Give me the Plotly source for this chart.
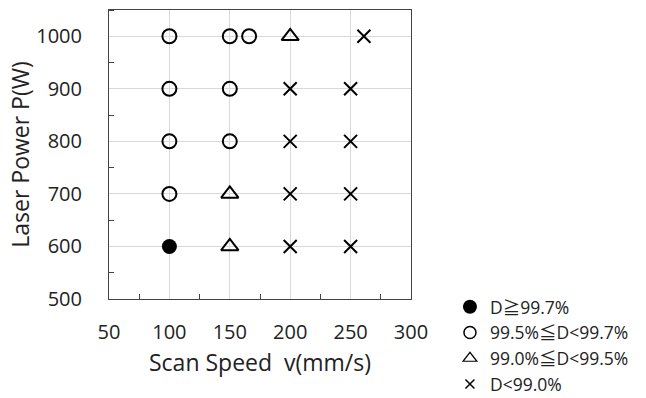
import plotly.graph_objects as go

# Data (scan speed v in mm/s, laser power P in W)
dense_v = [100]
dense_P = [600]
mid_v = [100, 100, 100, 100, 150, 150, 150, 166]
mid_P = [1000, 900, 800, 700, 1000, 900, 800, 1000]
low_v = [150, 150, 200]
low_P = [700, 600, 1000]
poor_v = [200, 200, 200, 200, 250, 250, 250, 250, 261]
poor_P = [900, 800, 700, 600, 900, 800, 700, 600, 1000]

names = ["D≧99.7%", "99.5%≦D<99.7%", "99.0%≦D<99.5%", "D<99.0%"]
x_ticks = [50, 100, 150, 200, 250, 300]
y_ticks = [500, 600, 700, 800, 900, 1000]

FONT = "Open Sans, Liberation Sans, Noto Sans CJK JP, sans-serif"

series = [
    (dense_v, dense_P, dict(symbol="circle", size=15, line=dict(width=0)),
     dict(symbol="circle", size=14, line=dict(width=0))),
    (mid_v, mid_P, dict(symbol="circle-open", size=14, line=dict(width=2, color="black")),
     dict(symbol="circle-open", size=12, line=dict(width=1.5, color="black"))),
    (low_v, low_P, dict(symbol="triangle-up-open", size=15, line=dict(width=2, color="black")),
     dict(symbol="triangle-up-open", size=12, line=dict(width=1.2, color="black"))),
    (poor_v, poor_P, dict(symbol="x-thin-open", size=13, line=dict(width=2, color="black")),
     dict(symbol="x-thin-open", size=9, line=dict(width=1.5, color="black"))),
]

fig = go.Figure()
for i, (xv, yv, mk, lmk) in enumerate(series):
    fig.add_trace(go.Scatter(x=xv, y=yv, mode="markers", name=names[i],
                             legendgroup=names[i], showlegend=False,
                             marker=dict(color="black", **mk)))
for i, (xv, yv, mk, lmk) in enumerate(series):
    fig.add_trace(go.Scatter(x=[None], y=[None], mode="markers", name=names[i],
                             legendgroup=names[i], showlegend=True,
                             marker=dict(color="black", **lmk)))

axis_common = dict(showgrid=True, gridcolor="#d9d9d9", gridwidth=1,
                   showline=True, linecolor="#444", linewidth=1, mirror=True,
                   ticks="", zeroline=False, automargin=False,
                   tickfont=dict(family=FONT, size=20, color="#222"))

fig.update_xaxes(range=[50, 300], tickvals=x_ticks, ticktext=[str(t) for t in x_ticks],
                 ticklabelstandoff=15,
                 minor=dict(ticks="inside", tick0=75, dtick=50, ticklen=5,
                            tickcolor="#444", showgrid=False),
                 title=dict(text="Scan Speed  v(mm/s)", standoff=10,
                            font=dict(family=FONT, size=23, color="#222")),
                 **axis_common)
fig.update_yaxes(range=[500, 1050], tickvals=y_ticks, ticktext=[str(t) for t in y_ticks],
                 ticklabelstandoff=22,
                 minor=dict(ticks="inside", tick0=550, dtick=100, ticklen=5,
                            tickcolor="#444", showgrid=False),
                 title=dict(text="Laser Power P(W)", standoff=0,
                            font=dict(family=FONT, size=23, color="#222")),
                 **axis_common)

fig.update_layout(
    width=646, height=398,
    margin=dict(l=109, r=235, t=10, b=99, autoexpand=False),
    paper_bgcolor="white", plot_bgcolor="white",
    showlegend=True,
    legend=dict(x=1.129, xanchor="left", y=0.035, yanchor="top",
                font=dict(family=FONT, size=17.5, color="#222"),
                tracegroupgap=0, itemsizing="trace",
                bgcolor="rgba(0,0,0,0)"),
)

fig.write_html("out.html")
